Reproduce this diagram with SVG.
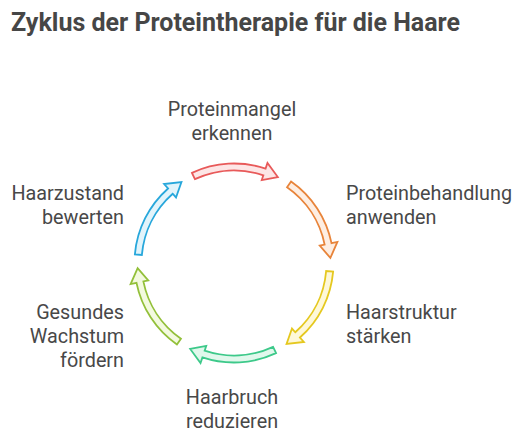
<svg xmlns="http://www.w3.org/2000/svg" width="522" height="437" viewBox="0 0 522 437">
  <style>
    .title { font-family: Roboto, "Liberation Sans", sans-serif; font-size: 25px; font-weight: bold; fill: #464646; }
    .lbl { font-family: Roboto, "Liberation Sans", sans-serif; font-size: 19.8px; fill: #484848; }
    .arr { stroke-width: 1.8; stroke-linejoin: miter; }
    .red { stroke: #E85A5A; fill: #FDE6E6; }
    .orange { stroke: #E8843A; fill: #FEEEE2; }
    .yellow { stroke: #E5C81F; fill: #FEF8D9; }
    .green { stroke: #3DC98A; fill: #E1F8EC; }
    .lime { stroke: #93C03A; fill: #F3FADF; }
    .blue { stroke: #27A7DB; fill: #E2F4FB; }
  </style>
  <defs>
    <path id="arc" d="M -42.05 -90.18 A 99.5 99.5 0 0 1 31.57 -94.36 L 33.48 -100.05 L 43.81 -85.98 L 27.76 -82.98 L 29.35 -87.72 A 92.5 92.5 0 0 0 -39.09 -83.83 Z"/>
  </defs>
  <rect width="522" height="437" fill="#ffffff"/>
  <text class="title" x="11" y="31">Zyklus der Proteintherapie für die Haare</text>

  <g id="connectors" transform="translate(234 263)">
    <use href="#arc" class="arr red" transform="rotate(0)"/>
    <use href="#arc" class="arr orange" transform="rotate(60)"/>
    <use href="#arc" class="arr yellow" transform="rotate(120)"/>
    <use href="#arc" class="arr green" transform="rotate(180)"/>
    <use href="#arc" class="arr lime" transform="rotate(240)"/>
    <use href="#arc" class="arr blue" transform="rotate(300)"/>
  </g>

  <g id="node-proteinmangel">
    <text class="lbl" x="232" y="116" text-anchor="middle">Proteinmangel</text>
    <text class="lbl" x="232" y="139.5" text-anchor="middle">erkennen</text>
  </g>
  <g id="node-proteinbehandlung">
    <text class="lbl" x="346" y="200">Proteinbehandlung</text>
    <text class="lbl" x="346" y="223.5">anwenden</text>
  </g>
  <g id="node-haarstruktur">
    <text class="lbl" x="346" y="319">Haarstruktur</text>
    <text class="lbl" x="346" y="342.5">stärken</text>
  </g>
  <g id="node-haarbruch">
    <text class="lbl" x="232" y="404" text-anchor="middle">Haarbruch</text>
    <text class="lbl" x="232" y="427.5" text-anchor="middle">reduzieren</text>
  </g>
  <g id="node-gesundes">
    <text class="lbl" x="124" y="319" text-anchor="end">Gesundes</text>
    <text class="lbl" x="124" y="342.5" text-anchor="end">Wachstum</text>
    <text class="lbl" x="124" y="366.5" text-anchor="end">fördern</text>
  </g>
  <g id="node-haarzustand">
    <text class="lbl" x="124" y="200" text-anchor="end">Haarzustand</text>
    <text class="lbl" x="124" y="223.5" text-anchor="end">bewerten</text>
  </g>
</svg>
